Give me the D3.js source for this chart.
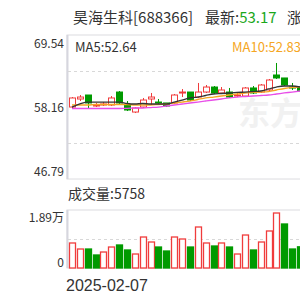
<!DOCTYPE html>
<html><head><meta charset="utf-8">
<script src="https://cdn.jsdelivr.net/npm/d3@7/dist/d3.min.js"></script>
<style>body{margin:0;background:#fff}svg{display:block}</style>
</head><body><svg></svg>
<script>
const dims = { width: 300, height: 300 }

// daily candles (in axis units)
const opens  = [58.16,59.43,60.06,58.32,58.48,58.48,60.53,58.48,57.37,58.16,59.43,58.95,58.80,58.80,60.38,60.53,59.74,60.53,61.32,60.38,60.53,59.90,59.90,61.17,60.53,60.85,63.22,62.75,61.32,61.32]
const closes = [59.59,59.74,58.80,58.48,58.64,59.59,58.80,57.69,58.01,59.27,59.74,58.80,58.32,60.06,60.53,59.27,60.53,61.32,60.38,60.85,59.74,60.06,61.17,60.38,61.64,62.43,62.75,61.64,61.17,60.69]
const highs  = [59.74,60.06,60.06,58.80,58.95,59.90,60.69,59.11,58.16,59.59,60.38,59.43,58.80,60.22,61.00,60.53,61.96,61.64,61.48,61.32,61.17,60.38,61.32,61.48,61.80,62.59,65.12,62.75,61.96,61.48]
const lows   = [58.01,59.11,58.01,58.16,58.32,58.32,58.64,57.53,57.21,58.01,58.48,58.48,58.16,58.64,59.74,59.11,59.59,60.38,60.22,60.22,59.59,59.74,59.74,60.22,60.38,60.69,62.59,61.48,60.85,60.53]

// moving averages
const ma5  = [58.16,58.64,58.95,58.95,58.95,58.95,58.95,58.72,58.64,58.72,58.64,58.64,58.64,58.95,59.27,59.59,59.74,59.98,60.22,60.30,60.38,60.46,60.53,60.61,60.69,61.01,61.32,61.48,61.48,61.32]
const ma10 = [58.48,58.48,58.48,58.56,58.56,58.56,58.56,58.56,58.48,58.48,58.48,58.56,58.64,58.80,58.95,59.11,59.35,59.59,59.74,59.90,60.06,60.22,60.38,60.46,60.53,60.61,60.85,61.09,61.25,61.32]
const ma20 = [57.93,57.93,57.93,57.93,57.93,57.93,57.93,57.96,58.01,58.01,58.08,58.16,58.32,58.48,58.64,58.80,58.95,59.11,59.27,59.43,59.59,59.74,59.82,59.90,59.98,60.06,60.22,60.38,60.53,60.69]

// volume and its colour (1 = up)
const volumes = [8150,6190,6190,4240,5210,6840,7500,5870,4560,10100,8470,6840,5540,10100,9450,6840,13360,8150,7170,8150,6840,4560,10750,5870,8470,12060,17920,14340,6190,6900]
const volUp   = [1,1,0,0,1,1,0,0,1,1,1,0,0,1,1,0,1,1,0,1,0,1,1,0,1,1,1,0,0,0]

const priceTicks = [69.54, 58.16, 46.79]
const priceTickLabels = ['69.54', '58.16', '46.79']
const volTicks = [18900, 0]
const volTickLabels = ['1.89万', '0']
const firstDate = '2025-02-07'

const RED = '#f03c3c', GREEN = '#009a00'
const FONT = '"Noto Sans CJK SC", "Noto Sans", sans-serif'

const svg = d3.select('svg').attr('width', dims.width).attr('height', dims.height)

const x = d3.scaleLinear().domain([0, closes.length - 1]).range([72, 300])
const y = d3.scaleLinear().domain([46.79, 69.54]).range([179, 35])
const yv = d3.scaleLinear().domain([0, 18900]).range([268, 210])

// watermark
svg.append('text').attr('x', 238).attr('y', 125)
  .attr('font-family', FONT).attr('font-size', 32).attr('font-weight', 'bold')
  .attr('fill', '#f1f1f1').text('东方财富')

// title
const title = svg.append('g').attr('font-family', FONT).attr('font-size', 15).attr('fill', '#333')
title.append('text').attr('x', 73).attr('y', 23).text('昊海生科[688366]')
const latest = title.append('text').attr('x', 205).attr('y', 23).text('最新:')
latest.append('tspan').attr('fill', '#1ba71b').text('53.17')
title.append('text').attr('x', 287).attr('y', 23).text('涨跌幅:0.59%')

// price panel frame
const pg = svg.append('g')
pg.append('rect').attr('x', 67).attr('y', 35).attr('width', 260).attr('height', 144)
  .attr('fill', 'none').attr('stroke', '#dcdce0')
pg.append('line').attr('x1', 67.5).attr('x2', 67.5).attr('y1', 35).attr('y2', 179)
  .attr('stroke', '#d6d6de').attr('stroke-width', 2)
pg.selectAll('.grid').data([y.invert(71), y.invert(143)])
  .enter().append('line')
    .attr('x1', 68).attr('x2', 300).attr('y1', d => Math.round(y(d)) + 0.5).attr('y2', d => Math.round(y(d)) + 0.5)
    .attr('stroke', '#d8d8d8').attr('stroke-dasharray', '3,3')

svg.append('g').attr('font-family', FONT).attr('font-size', 12).attr('fill', '#333')
  .attr('text-anchor', 'end')
  .selectAll('text').data(priceTicks)
  .enter().append('text')
    .attr('x', 64)
    .attr('y', (d, i) => [y(d) + 13, y(d) + 5, y(d) - 3][i])
    .text((d, i) => priceTickLabels[i])

// MA legend
svg.append('text').attr('x', 75).attr('y', 52).attr('font-family', FONT).attr('font-size', 13)
  .attr('fill', '#333').text('MA5:52.64')
svg.append('text').attr('x', 232).attr('y', 52).attr('font-family', FONT).attr('font-size', 13)
  .attr('fill', '#f5a623').text('MA10:52.83')

// candles
const candles = svg.append('g').selectAll('g').data(closes)
  .enter().append('g')
const up = i => closes[i] >= opens[i]
candles.append('line')
  .attr('x1', (d, i) => Math.round(x(i)) + 0.5).attr('x2', (d, i) => Math.round(x(i)) + 0.5)
  .attr('y1', (d, i) => y(highs[i])).attr('y2', (d, i) => y(lows[i]))
  .attr('stroke', (d, i) => up(i) ? RED : GREEN)
candles.append('rect')
  .attr('x', (d, i) => Math.round(x(i)) - 2.5)
  .attr('y', (d, i) => y(Math.max(opens[i], closes[i])))
  .attr('width', 6)
  .attr('height', (d, i) => Math.max(1, Math.abs(y(opens[i]) - y(closes[i]))))
  .attr('fill', (d, i) => up(i) ? '#fff' : GREEN)
  .attr('stroke', (d, i) => up(i) ? RED : GREEN)

// MA lines
const line = d3.line().x((d, i) => x(i)).y(d => y(d)).curve(d3.curveMonotoneX)
const maG = svg.append('g').attr('fill', 'none').attr('stroke-width', 1.3)
maG.append('path').attr('d', line(ma20)).attr('stroke', '#e84ee8')
maG.append('path').attr('d', line(ma10)).attr('stroke', '#f5a623')
maG.append('path').attr('d', line(ma5)).attr('stroke', '#333')

// volume
svg.append('text').attr('x', 68).attr('y', 199).attr('font-family', FONT).attr('font-size', 14)
  .attr('fill', '#333').text('成交量:5758')

const vg = svg.append('g')
vg.append('rect').attr('x', 67).attr('y', 210).attr('width', 260).attr('height', 58)
  .attr('fill', 'none').attr('stroke', '#dcdce0')
vg.append('line').attr('x1', 67.5).attr('x2', 67.5).attr('y1', 210).attr('y2', 268)
  .attr('stroke', '#d6d6de').attr('stroke-width', 2)
vg.append('line').attr('x1', 68).attr('x2', 300).attr('y1', Math.round(yv(9450)) + 0.5).attr('y2', Math.round(yv(9450)) + 0.5)
  .attr('stroke', '#d8d8d8').attr('stroke-dasharray', '3,3')

svg.append('g').attr('font-family', FONT).attr('font-size', 12).attr('fill', '#333')
  .attr('text-anchor', 'end')
  .selectAll('text').data(volTicks)
  .enter().append('text')
    .attr('x', 64)
    .attr('y', (d, i) => [yv(d) + 12, yv(d) - 1][i])
    .text((d, i) => volTickLabels[i])

svg.append('g').selectAll('rect').data(volumes)
  .enter().append('rect')
    .attr('x', (d, i) => Math.round(x(i)) - 2.5)
    .attr('y', d => yv(d))
    .attr('width', 6)
    .attr('height', d => yv(0) - yv(d))
    .attr('fill', (d, i) => volUp[i] ? '#fff' : GREEN)
    .attr('stroke', (d, i) => volUp[i] ? RED : GREEN)
    .attr('stroke-width', 1.3)

svg.append('text').attr('x', 66).attr('y', 291).attr('font-family', '"Liberation Sans", Arial, sans-serif')
  .attr('font-size', 16).attr('fill', '#333').text(firstDate)
</script>
</body></html>
